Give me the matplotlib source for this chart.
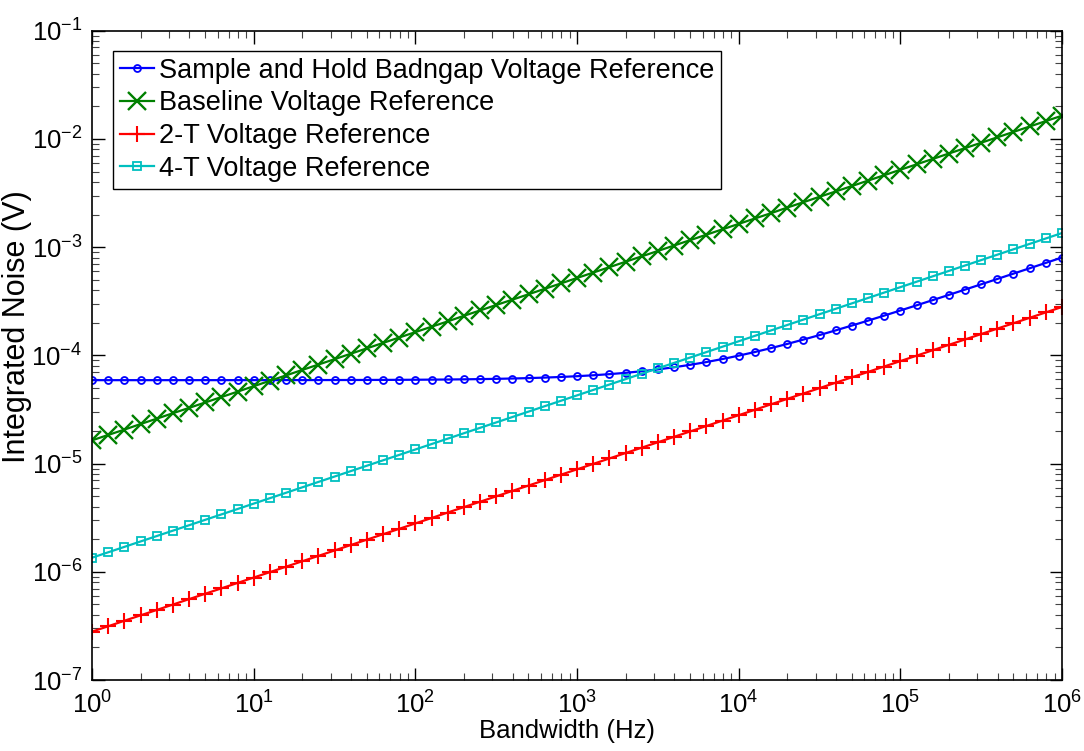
import matplotlib
matplotlib.use('Agg')
import matplotlib.pyplot as plt
import numpy as np

# bandwidth points (Hz), 10 per decade
freq = [1, 1.259, 1.585, 1.995, 2.512, 3.162, 3.981, 5.012, 6.310, 7.943,
        10, 12.59, 15.85, 19.95, 25.12, 31.62, 39.81, 50.12, 63.10, 79.43,
        100, 125.9, 158.5, 199.5, 251.2, 316.2, 398.1, 501.2, 631.0, 794.3,
        1000, 1259, 1585, 1995, 2512, 3162, 3981, 5012, 6310, 7943,
        1e4, 12589, 15849, 19953, 25119, 31623, 39811, 50119, 63096, 79433,
        1e5, 125893, 158489, 199526, 251189, 316228, 398107, 501187, 630957, 794328,
        1e6]

# integrated noise, in microvolts
sample_hold_uv = [59.01, 59.01, 59.01, 59.01, 59.01, 59.02, 59.02, 59.03, 59.03, 59.04,
                  59.05, 59.07, 59.09, 59.11, 59.14, 59.17, 59.22, 59.27, 59.34, 59.43,
                  59.54, 59.68, 59.85, 60.07, 60.35, 60.69, 61.12, 61.66, 62.33, 63.16,
                  64.19, 65.47, 67.05, 68.98, 71.34, 74.19, 77.65, 81.78, 86.71, 92.55,
                  99.40, 107.4, 116.7, 127.5, 139.9, 154.0, 170.2, 188.6, 209.4, 233.0,
                  259.8, 289.9, 323.9, 362.2, 405.3, 453.7, 508.2, 569.4, 638.2, 715.5,
                  802.2]
baseline_uv = [16.4, 18.4, 20.6, 23.2, 26.0, 29.2, 32.7, 36.7, 41.2, 46.2,
               51.9, 58.2, 65.3, 73.3, 82.2, 92.2, 103.5, 116.1, 130.3, 146.2,
               164, 184, 206, 232, 260, 292, 327, 367, 412, 462,
               519, 582, 653, 733, 822, 922, 1035, 1161, 1303, 1462,
               1640, 1840, 2060, 2320, 2600, 2920, 3270, 3670, 4120, 4620,
               5190, 5820, 6530, 7330, 8220, 9220, 10350, 11610, 13030, 14620,
               16400]
two_t_uv = [0.280, 0.314, 0.353, 0.396, 0.444, 0.498, 0.559, 0.627, 0.703, 0.789,
            0.885, 0.993, 1.115, 1.251, 1.403, 1.574, 1.767, 1.982, 2.224, 2.496,
            2.80, 3.14, 3.53, 3.96, 4.44, 4.98, 5.59, 6.27, 7.03, 7.89,
            8.85, 9.93, 11.15, 12.51, 14.03, 15.74, 17.67, 19.82, 22.24, 24.96,
            28.0, 31.4, 35.3, 39.6, 44.4, 49.8, 55.9, 62.7, 70.3, 78.9,
            88.5, 99.3, 111.5, 125.1, 140.3, 157.4, 176.7, 198.2, 222.4, 249.6,
            280.0]
four_t_uv = [1.350, 1.515, 1.700, 1.907, 2.140, 2.400, 2.693, 3.022, 3.391, 3.804,
             4.269, 4.790, 5.374, 6.030, 6.766, 7.591, 8.518, 9.557, 10.72, 12.03,
             13.5, 15.15, 17.0, 19.07, 21.4, 24.0, 26.93, 30.22, 33.91, 38.04,
             42.69, 47.9, 53.74, 60.3, 67.66, 75.91, 85.18, 95.57, 107.2, 120.3,
             135, 151.5, 170, 190.7, 214, 240, 269.3, 302.2, 339.1, 380.4,
             426.9, 479, 537.4, 603, 676.6, 759.1, 851.8, 955.7, 1072, 1203,
             1350]

labels = ['Sample and Hold Badngap Voltage Reference', 'Baseline Voltage Reference',
          '2-T Voltage Reference', '4-T Voltage Reference']

plt.rcParams['font.family'] = ['Liberation Sans', 'DejaVu Sans']
plt.rcParams['mathtext.default'] = 'regular'

fig = plt.figure(figsize=(10.84, 7.51), dpi=100)
ax = fig.add_axes([0.0849, 0.0945, 0.8948, 0.8646])

f = np.array(freq)
ax.loglog(f, np.array(sample_hold_uv) * 1e-6, color='#0000ff', marker='o', ms=5,
          mfc='none', mew=1.3, lw=1.6, label=labels[0])
ax.loglog(f, np.array(baseline_uv) * 1e-6, color='#008000', marker='x', ms=13,
          mew=1.7, lw=1.6, label=labels[1])
ax.loglog(f, np.array(two_t_uv) * 1e-6, color='#ff0000', marker='+', ms=11,
          mew=1.5, lw=1.6, label=labels[2])
ax.loglog(f, np.array(four_t_uv) * 1e-6, color='#00bfbf', marker='s', ms=6,
          mfc='none', mew=1.3, lw=1.6, label=labels[3])

ax.set_xlim(1, 1e6)
ax.set_ylim(1e-7, 1e-1)
ax.tick_params(which='both', direction='in', top=True, right=True, labelsize=18.5)
ax.tick_params(axis='x', pad=8)
ax.tick_params(axis='y', pad=7)
ax.tick_params(which='major', length=9, width=1)
ax.tick_params(which='minor', length=5, width=0.8, color='#444444')
for s in ax.spines.values():
    s.set_linewidth(1.2)

ax.set_xlabel('Bandwidth (Hz)', fontsize=18.5)
ax.xaxis.set_label_coords(0.49, -0.097)
ax.xaxis.label.set_va('bottom')
ax.set_ylabel('Integrated Noise (V)', fontsize=22)
ax.yaxis.set_label_coords(-0.062, 0.544)

leg = ax.legend(loc='upper left', bbox_to_anchor=(0.0216, 0.969), fontsize=19.5,
                handlelength=1.25, handletextpad=0.2, labelspacing=0.25,
                borderpad=0.25, borderaxespad=0, fancybox=False, framealpha=1)
leg.get_frame().set_edgecolor('black')
leg.get_frame().set_linewidth(1.0)

fig.savefig('out.png', dpi=100)
